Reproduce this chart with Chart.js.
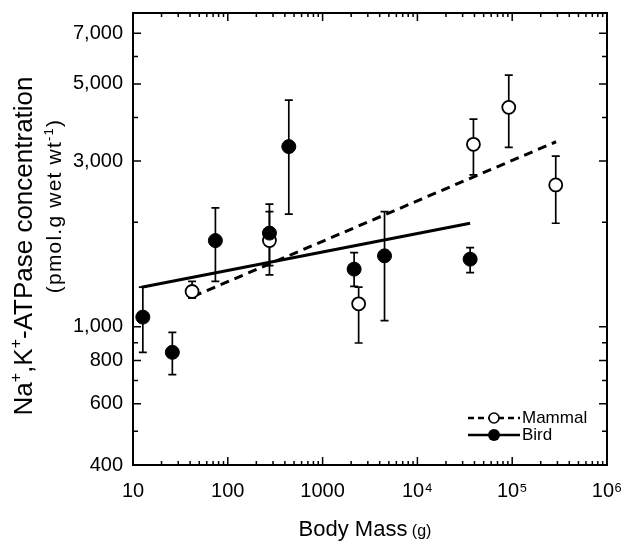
<!DOCTYPE html>
<html>
<head>
<meta charset="utf-8">
<script src="https://cdn.jsdelivr.net/npm/chart.js@4/dist/chart.umd.min.js"></script>
<style>
  body { margin: 0; background: #fff; }
  canvas { display: block; }
</style>
</head>
<body>
<canvas id="chart" width="624" height="543"></canvas>
<script>
// Bird (filled circles): mean and upper / lower error limits
const birdMass = [12.7, 26, 74, 275, 440, 2150, 4500, 36000];
const birdConc = [1066, 844, 1770, 1860, 3300, 1465, 1600, 1565];
const birdHigh = [1300, 963, 2200, 2255, 4490, 1635, 2145, 1690];
const birdLow  = [844, 728, 1350, 1500, 2110, 1306, 1042, 1432];

// Mammal (open circles)
const mammalMass = [42, 275, 2400, 39000, 92000, 288000];
const mammalConc = [1263, 1770, 1164, 3350, 4280, 2560];
const mammalHigh = [1350, 2145, 1300, 3960, 5300, 3100];
const mammalLow  = [1209, 1411, 898, 2735, 3285, 1986];

// regression lines (end points)
const mammalFitMass = [43, 290000];
const mammalFitConc = [1222, 3408];
const birdFitMass = [12.3, 36000];
const birdFitConc = [1300, 1986];

// axis ticks
const xTicks = [10, 100, 1000, 1e4, 1e5, 1e6];
const yTicks = [400, 600, 800, 1000, 3000, 5000, 7000];
const yMinor = [500, 700, 900, 2000, 4000, 6000];

const FONT = '"Liberation Sans", Arial, Helvetica, sans-serif';
const SUP = { 4: '\u2074', 5: '\u2075', 6: '\u2076' };

const pts = (xs, ys) => xs.map((x, i) => ({ x: x, y: ys[i] }));

// draw text made of parts with different sizes (superscripts)
function rich(ctx, parts, cx, base, spacing) {
    ctx.letterSpacing = (spacing || 0) + 'px';
    let total = 0;
    parts.forEach(p => {
        ctx.font = p[1] + 'px ' + FONT;
        total += ctx.measureText(p[0]).width;
    });
    let x = cx - total / 2;
    ctx.textAlign = 'left';
    ctx.textBaseline = 'alphabetic';
    parts.forEach(p => {
        ctx.font = p[1] + 'px ' + FONT;
        ctx.fillText(p[0], x, base - (p[2] || 0));
        x += ctx.measureText(p[0]).width;
    });
    ctx.letterSpacing = '0px';
}

function errorBars(chart, mass, high, low) {
    const ctx = chart.ctx, xs = chart.scales.x, ys = chart.scales.y;
    mass.forEach((m, i) => {
        const px = xs.getPixelForValue(m);
        const top = ys.getPixelForValue(high[i]);
        const bot = ys.getPixelForValue(low[i]);
        ctx.beginPath();
        ctx.moveTo(px, top); ctx.lineTo(px, bot);
        ctx.moveTo(px - 4, top); ctx.lineTo(px + 4, top);
        ctx.moveTo(px - 4, bot); ctx.lineTo(px + 4, bot);
        ctx.stroke();
    });
}

const extras = {
    id: 'extras',
    beforeDatasetsDraw(chart) {
        const ctx = chart.ctx;
        ctx.save();
        ctx.strokeStyle = '#000';
        ctx.lineWidth = 1.7;
        errorBars(chart, birdMass, birdHigh, birdLow);
        errorBars(chart, mammalMass, mammalHigh, mammalLow);
        ctx.restore();
    },
    afterDraw(chart) {
        const ctx = chart.ctx, a = chart.chartArea;
        const xs = chart.scales.x, ys = chart.scales.y;
        ctx.save();
        ctx.strokeStyle = '#000';
        ctx.fillStyle = '#000';

        // frame
        ctx.lineWidth = 2;
        ctx.strokeRect(a.left, a.top, a.right - a.left, a.bottom - a.top);

        // inward ticks on all four sides
        ctx.lineWidth = 1.5;
        ctx.beginPath();
        for (let e = 1; e <= 6; e++) {
            for (let k = 1; k <= 9; k++) {
                const v = k * Math.pow(10, e);
                if (v > 1e6) break;
                const px = xs.getPixelForValue(v);
                const len = k === 1 ? 8 : 4;
                ctx.moveTo(px, a.bottom); ctx.lineTo(px, a.bottom - len);
                ctx.moveTo(px, a.top); ctx.lineTo(px, a.top + len);
            }
        }
        yTicks.concat(yMinor).forEach(v => {
            const py = ys.getPixelForValue(v);
            const len = yTicks.includes(v) ? 8 : 5;
            ctx.moveTo(a.left, py); ctx.lineTo(a.left + len, py);
            ctx.moveTo(a.right, py); ctx.lineTo(a.right - len, py);
        });
        ctx.stroke();

        // legend
        const lx = 468, lw = 52;
        ctx.lineWidth = 2.5;
        ctx.setLineDash([6, 4]);
        ctx.beginPath(); ctx.moveTo(lx, 418); ctx.lineTo(lx + lw, 418); ctx.stroke();
        ctx.setLineDash([]);
        ctx.beginPath(); ctx.moveTo(lx, 435); ctx.lineTo(lx + lw, 435); ctx.stroke();
        ctx.lineWidth = 1.6;
        ctx.fillStyle = '#fff';
        ctx.beginPath(); ctx.arc(lx + lw / 2, 418, 5, 0, Math.PI * 2); ctx.fill(); ctx.stroke();
        ctx.fillStyle = '#000';
        ctx.beginPath(); ctx.arc(lx + lw / 2, 435, 6, 0, Math.PI * 2); ctx.fill();
        ctx.font = '17px ' + FONT;
        ctx.textAlign = 'left';
        ctx.textBaseline = 'middle';
        ctx.fillText('Mammal', lx + lw + 2, 418);
        ctx.fillText('Bird', lx + lw + 2, 435);

        // axis titles
        rich(ctx, [['Body Mass', 22], [' (g)', 16]], 365, 536);
        ctx.save();
        ctx.translate(32, 246);
        ctx.rotate(-Math.PI / 2);
        rich(ctx, [['Na', 26], ['+', 16, 11], [',K', 26], ['+', 16, 11], ['-ATPase concentration', 26]], 0, 0);
        ctx.restore();
        ctx.save();
        ctx.translate(61, 206);
        ctx.rotate(-Math.PI / 2);
        rich(ctx, [['(pmol.g wet wt', 21], ['-1', 13, 8], [')', 21]], 0, 0, 1.2);
        ctx.restore();

        ctx.restore();
    }
};

new Chart(document.getElementById('chart'), {
    type: 'scatter',
    data: {
        datasets: [
            {
                label: 'Bird',
                data: pts(birdMass, birdConc),
                pointRadius: 7,
                pointBackgroundColor: '#000',
                pointBorderColor: '#000',
                pointBorderWidth: 1
            },
            {
                label: 'Mammal',
                data: pts(mammalMass, mammalConc),
                pointRadius: 6.5,
                pointBackgroundColor: '#fff',
                pointBorderColor: '#000',
                pointBorderWidth: 1.8
            },
            {
                type: 'line',
                label: 'Mammal fit',
                data: pts(mammalFitMass, mammalFitConc),
                borderColor: '#000',
                borderWidth: 3,
                borderDash: [9, 6],
                pointRadius: 0,
                fill: false
            },
            {
                type: 'line',
                label: 'Bird fit',
                data: pts(birdFitMass, birdFitConc),
                borderColor: '#000',
                borderWidth: 3,
                pointRadius: 0,
                fill: false
            }
        ]
    },
    options: {
        responsive: false,
        animation: false,
        layout: { autoPadding: false, padding: { top: 13, right: 17, left: 0, bottom: 0 } },
        plugins: { legend: { display: false }, tooltip: { enabled: false } },
        scales: {
            x: {
                type: 'logarithmic',
                min: 10,
                max: 1e6,
                grid: { display: false, drawTicks: false },
                border: { display: false },
                afterBuildTicks: s => { s.ticks = xTicks.map(v => ({ value: v })); },
                afterFit: s => { s.height = 78; s.paddingLeft = 0; s.paddingRight = 0; },
                ticks: {
                    padding: 14,
                    color: '#000',
                    font: { size: 20, family: FONT },
                    maxRotation: 0,
                    autoSkip: false,
                    callback: v => v < 1e4 ? String(v) : '10' + SUP[Math.round(Math.log10(v))]
                }
            },
            y: {
                type: 'logarithmic',
                min: 400,
                max: 8000,
                grid: { display: false, drawTicks: false },
                border: { display: false },
                afterBuildTicks: s => { s.ticks = yTicks.map(v => ({ value: v })); },
                afterFit: s => { s.width = 133; s.paddingTop = 0; s.paddingBottom = 0; },
                ticks: {
                    padding: 10,
                    color: '#000',
                    font: { size: 20, family: FONT },
                    autoSkip: false,
                    callback: v => v.toLocaleString('en-US')
                }
            }
        }
    },
    plugins: [extras]
});
</script>
</body>
</html>
